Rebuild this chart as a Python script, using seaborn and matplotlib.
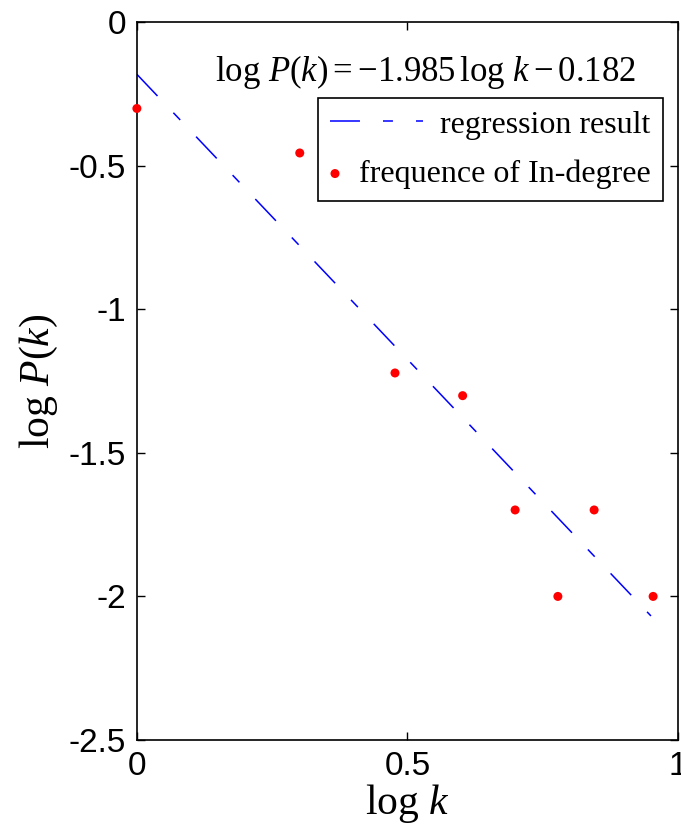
import matplotlib
matplotlib.use("Agg")
import matplotlib.pyplot as plt
from matplotlib.legend_handler import HandlerPathCollection
import seaborn as sns
import pandas as pd

# data
log_k = [0.0, 0.301, 0.477, 0.602, 0.699, 0.778, 0.845, 0.954]
log_p = [-0.301, -0.456, -1.222, -1.301, -1.699, -2.0, -1.699, -2.0]
reg_x = [0.0, 0.95]
reg_y = [-0.182, -2.068]
x_ticks = [0, 0.5, 1]
x_tick_labels = ["0", "0.5", "1"]
y_ticks = [0, -0.5, -1, -1.5, -2, -2.5]
y_tick_labels = ["0", "-0.5", "-1", "-1.5", "-2", "-2.5"]

plt.rcParams["mathtext.fontset"] = "custom"
plt.rcParams["mathtext.rm"] = "Liberation Serif"
plt.rcParams["mathtext.it"] = "Liberation Serif:italic"
plt.rcParams["font.family"] = ["Liberation Serif", "DejaVu Serif"]

fig = plt.figure(figsize=(6.81, 8.31), dpi=100)
ax = fig.add_axes([0.201, 0.1095, 0.7946, 0.864])

pts = pd.DataFrame({"x": log_k, "y": log_p})
reg = pd.DataFrame({"x": reg_x, "y": reg_y})

sns.lineplot(data=reg, x="x", y="y", ax=ax, color="#0000ff", lw=1.1,
             linestyle=(0, (19.6, 15.1, 6.5, 15.1)), label="regression result",
             sort=False)
sns.scatterplot(data=pts, x="x", y="y", ax=ax, color="#ff0000", s=42,
                edgecolor="none", label="frequence of In-degree",
                clip_on=False, zorder=5)

ax.set_xlim(0, 1)
ax.set_ylim(-2.5, 0)
ax.set_xticks(x_ticks)
ax.set_xticklabels(x_tick_labels, family="Liberation Sans", fontsize=24)
ax.set_yticks(y_ticks)
ax.set_yticklabels(y_tick_labels, family="Liberation Sans", fontsize=24)
ax.tick_params(direction="in", length=6, width=1, top=True, right=True,
               pad=8, colors="black")
for s in ax.spines.values():
    s.set_linewidth(1.2)
    s.set_color("black")

ax.set_xlabel(r"log $k$", fontsize=30, labelpad=0)
ax.set_ylabel(r"log $P(k)$", fontsize=30, labelpad=6)

ax.text(0.534, 0.930, r"log $P(k) = -1.985\,$log $k - 0.182$",
        transform=ax.transAxes, fontsize=25, ha="center", va="center")


class LeftScatter(HandlerPathCollection):
    def get_xdata(self, legend, xdescent, ydescent, width, height, fontsize):
        x = [-xdescent + 3.5]
        return x, x


handles, labels = ax.get_legend_handles_labels()
leg = ax.legend(handles, labels, loc="upper right",
                bbox_to_anchor=(0.972, 0.894),
                borderaxespad=0, fontsize=23, frameon=True, fancybox=False,
                edgecolor="black", framealpha=1, handlelength=2.9,
                handletextpad=0.55, labelspacing=0.62, borderpad=0.38,
                handler_map={type(handles[1]): LeftScatter()})
leg.get_frame().set_linewidth(1.2)

# second row: short marker box so its text starts closer to the marker
rows = leg._legend_handle_box.get_children()[0].get_children()
row2 = rows[1]
row2.get_children()[0].width = 7.0
row2.sep = 13.5

fig.savefig("out.png", dpi=100)
